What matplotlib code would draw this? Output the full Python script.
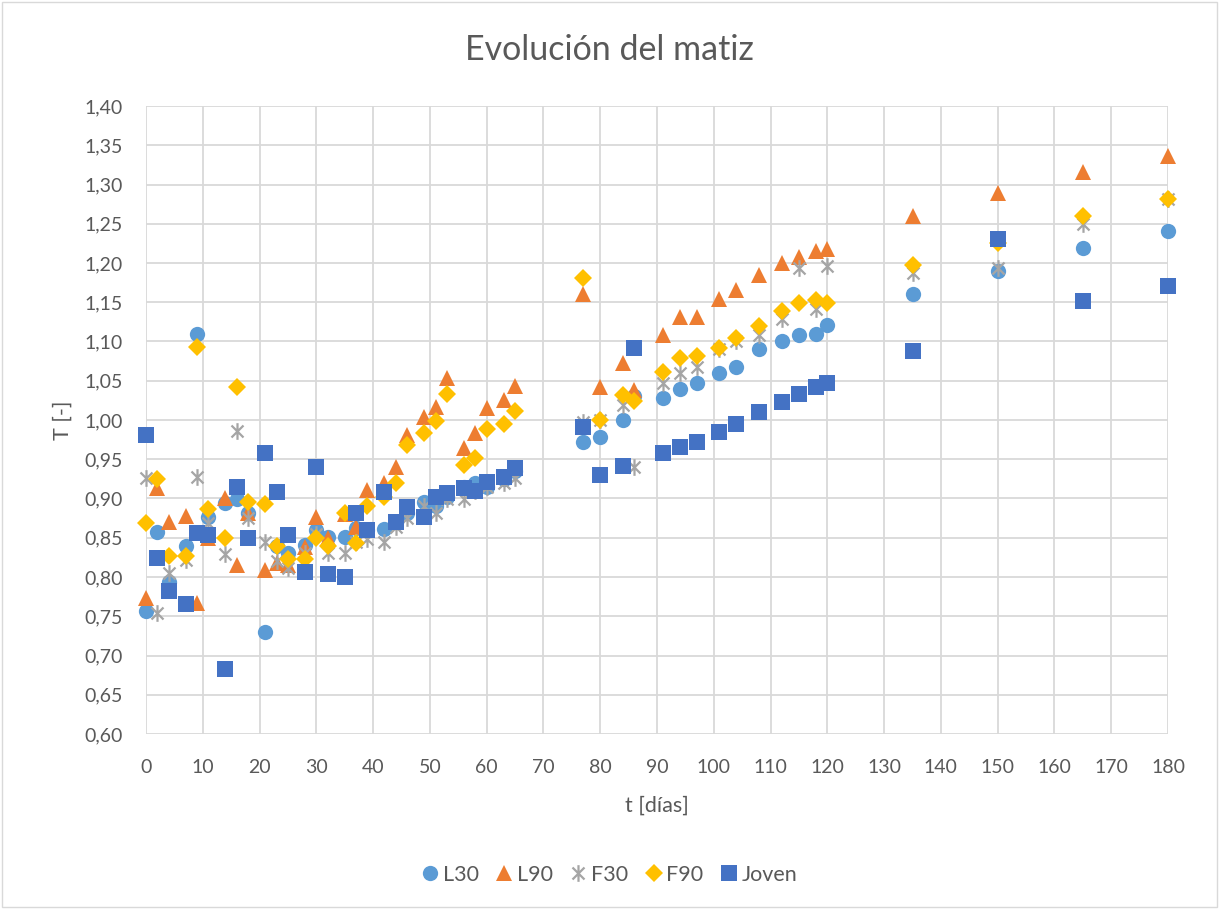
import matplotlib
matplotlib.use("Agg")
import matplotlib.pyplot as plt
from matplotlib.path import Path
from matplotlib.patches import Rectangle
from matplotlib.ticker import FuncFormatter, MultipleLocator

days = [0, 2, 4, 7, 9, 11, 14, 16, 18, 21, 23, 25, 28, 30, 32, 35, 37, 39, 42, 44,
        46, 49, 51, 53, 56, 58, 60, 63, 65, 77, 80, 84, 86, 91, 94, 97, 101, 104,
        108, 112, 115, 118, 120, 135, 150, 165, 180]

l30 = [0.757, 0.857, 0.793, 0.839, 1.109, 0.876, 0.894, 0.900, 0.881, 0.730, 0.840,
       0.830, 0.841, 0.860, 0.851, 0.851, 0.862, 0.860, 0.861, 0.870, 0.881, 0.895,
       0.890, 0.902, 0.915, 0.920, 0.915, 0.925, 0.935, 0.972, 0.978, 1.000, 1.030,
       1.028, 1.039, 1.047, 1.060, 1.068, 1.090, 1.101, 1.108, 1.110, 1.121, 1.161,
       1.190, 1.219, 1.241]

l90 = [0.773, 0.913, 0.870, 0.878, 0.767, 0.850, 0.901, 0.815, 0.881, 0.809, 0.818,
       0.815, 0.838, 0.877, 0.850, 0.880, 0.864, 0.911, 0.920, 0.940, 0.981, 1.004,
       1.017, 1.053, 0.964, 0.984, 1.015, 1.025, 1.043, 1.160, 1.042, 1.073, 1.038,
       1.108, 1.131, 1.131, 1.154, 1.166, 1.185, 1.200, 1.208, 1.215, 1.218, 1.260,
       1.289, 1.316, 1.336]

f30 = [0.926, 0.754, 0.805, 0.822, 0.928, 0.869, 0.829, 0.986, 0.875, 0.844, 0.820,
       0.811, 0.830, 0.855, 0.831, 0.831, 0.845, 0.848, 0.845, 0.864, 0.875, 0.890,
       0.881, 0.900, 0.900, 0.910, 0.915, 0.920, 0.926, 0.998, 1.000, 1.019, 0.940,
       1.047, 1.060, 1.068, 1.090, 1.100, 1.108, 1.129, 1.193, 1.141, 1.196, 1.187,
       1.193, 1.250, 1.281]

f90 = [0.869, 0.925, 0.827, 0.827, 1.093, 0.887, 0.850, 1.042, 0.896, 0.893, 0.840,
       0.823, 0.823, 0.850, 0.840, 0.881, 0.843, 0.890, 0.902, 0.920, 0.968, 0.984,
       0.999, 1.033, 0.943, 0.952, 0.988, 0.995, 1.011, 1.181, 1.000, 1.032, 1.024,
       1.061, 1.079, 1.081, 1.092, 1.104, 1.120, 1.139, 1.149, 1.153, 1.149, 1.198,
       1.225, 1.260, 1.281]

joven = [0.981, 0.824, 0.782, 0.766, 0.856, 0.853, 0.683, 0.915, 0.850, 0.958, 0.908,
         0.853, 0.807, 0.940, 0.804, 0.800, 0.881, 0.860, 0.908, 0.870, 0.889, 0.877,
         0.902, 0.907, 0.913, 0.910, 0.921, 0.928, 0.939, 0.991, 0.930, 0.941, 1.092,
         0.958, 0.966, 0.972, 0.985, 0.995, 1.010, 1.023, 1.033, 1.042, 1.047, 1.088,
         1.231, 1.151, 1.171]

series_names = ["L30", "L90", "F30", "F90", "Joven"]

plt.rcParams['font.family'] = ['Lato', 'DejaVu Sans']

star = Path([(0, -1), (0, 1), (-0.72, -0.72), (0.72, 0.72), (-0.72, 0.72), (0.72, -0.72)],
            [Path.MOVETO, Path.LINETO, Path.MOVETO, Path.LINETO, Path.MOVETO, Path.LINETO])

fig = plt.figure(figsize=(12.19, 9.09), dpi=100)
ax = fig.add_axes([146 / 1219, 1 - 734 / 909, (1168 - 146) / 1219, (734 - 106) / 909])

styles = [
    dict(marker='o', color='#5B9BD5', ms=11),
    dict(marker='^', color='#ED7D31', ms=12),
    dict(marker=star, color='#A5A5A5', ms=12, mfc='none', mew=1.6),
    dict(marker='D', color='#FFC000', ms=9),
    dict(marker='s', color='#4472C4', ms=11),
]
for name, vals, st in zip(series_names, [l30, l90, f30, f90, joven], styles):
    ax.plot(days, vals, linestyle='none', label=name, markeredgewidth=st.pop('mew', 0),
            zorder=3, clip_on=False, **st)

ax.set_xlim(0, 180)
ax.set_ylim(0.60, 1.40)
ax.xaxis.set_major_locator(MultipleLocator(10))
ax.yaxis.set_major_locator(MultipleLocator(0.05))
ax.yaxis.set_major_formatter(FuncFormatter(lambda v, p: f"{v:.2f}".replace('.', ',')))
ax.grid(True, color='#D9D9D9', linewidth=1.3)
ax.set_axisbelow(True)
for s in ax.spines.values():
    s.set_visible(False)
ax.tick_params(length=0, labelsize=14, labelcolor='#595959')
ax.tick_params(axis='x', pad=18)
ax.tick_params(axis='y', pad=17)

ax.set_xlabel("t [días]", fontsize=15.5, color='#595959', labelpad=14)
ax.set_ylabel("T [-]", fontsize=15.5, color='#595959', labelpad=8)
fig.text(0.5, 1 - 50 / 909, "Evolución del matiz", ha='center', va='center',
         fontsize=24.5, color='#595959')

leg = fig.legend(loc='center', bbox_to_anchor=(0.5, 1 - 875 / 909), ncol=5, frameon=False,
                 fontsize=15.5, handlelength=0.8, handletextpad=0.2, columnspacing=0.77,
                 markerscale=1.0, labelcolor='#595959', borderaxespad=0)

fig.patches.append(Rectangle((0.002, 0.002), 0.996, 0.996, transform=fig.transFigure,
                             fill=False, edgecolor='#D9D9D9', linewidth=1))

fig.savefig("out.png", dpi=100)
